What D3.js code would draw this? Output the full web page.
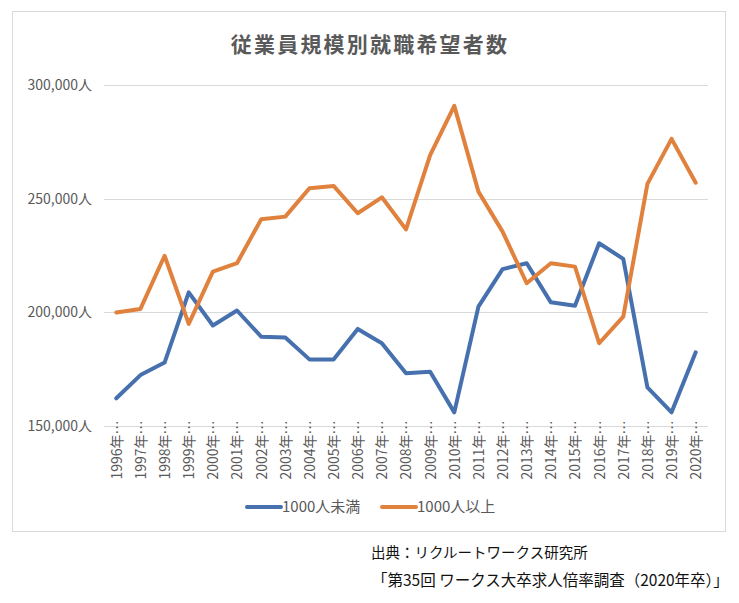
<!DOCTYPE html>
<html><head><meta charset="utf-8">
<script src="https://cdn.jsdelivr.net/npm/d3@7"></script>
<style>
html,body{margin:0;padding:0;background:#fff;}
svg{display:block;font-family:"Noto Sans CJK JP","Noto Sans",sans-serif;}
</style></head>
<body><svg id="c" width="739" height="603"></svg>
<script>
const years = ["1996年…","1997年…","1998年…","1999年…","2000年…","2001年…","2002年…","2003年…","2004年…","2005年…","2006年…","2007年…","2008年…","2009年…","2010年…","2011年…","2012年…","2013年…","2014年…","2015年…","2016年…","2017年…","2018年…","2019年…","2020年…"];
const under1000 = [162200,172400,177900,208800,194200,200800,189300,188900,179300,179300,192700,186400,173200,173900,156000,202500,219000,221600,204400,202900,230400,223500,167000,156000,182400];
const over1000 = [199900,201500,224900,194900,217900,221600,240900,242100,254600,255600,243600,250600,236500,269200,290800,253100,235500,212800,221600,220100,186400,198100,256500,276300,257000];
const yTicks = [150000,200000,250000,300000];
const seriesNames = ["1000人未満","1000人以上"];
const colors = ["#4671AE","#E0823D"];
const title = "従業員規模別就職希望者数";
const source1 = "出典：リクルートワークス研究所";
const source2 = "「第35回 ワークス大卒求人倍率調査（2020年卒）」";

const svg = d3.select("#c");
svg.append("rect").attr("x",12.5).attr("y",11.5).attr("width",713).attr("height",520)
  .attr("fill","#fff").attr("stroke","#d9d9d9").attr("stroke-width",1);

const x = d3.scalePoint().domain(years).range([116.3,695.7]);
const y = d3.scaleLinear().domain([150000,300000]).range([426,85]);

svg.append("text").attr("x",370).attr("y",52).attr("text-anchor","middle")
  .attr("font-size",21).attr("letter-spacing",2.2).attr("font-weight","bold").attr("fill","#595959").text(title);

// gridlines
svg.append("g").selectAll("line").data(yTicks.slice(1)).join("line")
  .attr("x1",104).attr("x2",708).attr("y1",d=>Math.round(y(d))+0.5).attr("y2",d=>Math.round(y(d))+0.5)
  .attr("stroke","#d9d9d9").attr("stroke-width",1);

// y axis
const yAxis = d3.axisLeft(y).tickValues(yTicks).tickSize(0).tickPadding(0)
  .tickFormat(d=>d3.format(",")(d)+"人");
const gy = svg.append("g").attr("transform","translate(92,0)").call(yAxis);
gy.select(".domain").remove();
gy.selectAll("text").attr("font-size",14).attr("fill","#595959")
  .attr("font-family","'Noto Sans CJK JP',sans-serif");

// x axis
const xAxis = d3.axisBottom(x).tickSize(0).tickPadding(0);
const gx = svg.append("g").attr("transform","translate(0,426.5)").call(xAxis);
gx.select(".domain").attr("d","M104,0H708").attr("stroke","#d9d9d9");
gx.selectAll("text").attr("font-size",14).attr("fill","#595959")
  .attr("font-family","'Noto Sans CJK JP',sans-serif")
  .attr("text-anchor","end").attr("dy","0.35em")
  .attr("transform","translate(0,-6) rotate(-90)");

// lines
const line = d3.line().x((d,i)=>x(years[i])).y(d=>y(d));
[under1000, over1000].forEach((s,k)=>{
  svg.append("path").datum(s).attr("d",line).attr("fill","none")
    .attr("stroke",colors[k]).attr("stroke-width",4)
    .attr("stroke-linejoin","round").attr("stroke-linecap","round");
});

// legend
const legX = [247,382];
seriesNames.forEach((n,k)=>{
  const g = svg.append("g").attr("transform",`translate(${legX[k]},507)`);
  g.append("line").attr("x1",0).attr("x2",34).attr("stroke",colors[k]).attr("stroke-width",4)
    .attr("stroke-linecap","round");
  g.append("text").attr("x",35).attr("dy","0.35em").attr("font-size",15).attr("fill","#595959").text(n);
});

svg.append("text").attr("x",371).attr("y",558).attr("font-size",14.5).attr("fill","#111").text(source1);
svg.append("text").attr("x",372).attr("y",586).attr("font-size",15.5).attr("fill","#111").text(source2);
</script></body></html>
